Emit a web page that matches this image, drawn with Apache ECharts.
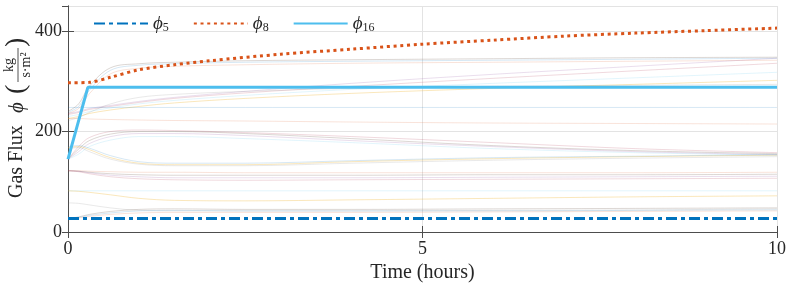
<!DOCTYPE html>
<html>
<head>
<meta charset="utf-8">
<script src="https://cdn.jsdelivr.net/npm/echarts@6/dist/echarts.min.js"></script>
<style>
html,body{margin:0;padding:0;background:#fff;}
#c{width:789px;height:289px;}
</style>
</head>
<body>
<div id="c"></div>
<script>
// ---- data ----
const T = [0, 0.15, 0.3, 0.6, 1, 1.5, 2.5, 4, 6, 8, 10];
const phi5 = [27, 27, 27, 27, 27, 27, 27, 27, 27, 27, 27];
const phi8T = [0, 0.3, 0.6, 1, 1.5, 2, 3, 4, 5, 6, 7, 8, 9, 10];
const phi8 = [297, 298, 308, 323, 333, 341, 354, 364, 374, 382, 390, 396, 401, 406];
const phi16T = [0, 0.28, 10];
const phi16 = [145, 288, 288];

// background runs (values at T)
const run01 = [238, 250, 282, 322, 332, 335, 338, 340, 342, 344, 346];
const run02 = [236, 246, 275, 315, 326, 330, 333, 336, 338, 340, 342];
const run03 = [240, 255, 290, 327, 335, 338, 341, 343, 345, 347, 348];
const run04 = [236, 240, 246, 252, 260, 268, 280, 296, 314, 330, 346];
const run05 = [234, 238, 244, 250, 258, 266, 277, 290, 306, 321, 336];
const run06 = [230, 234, 240, 247, 255, 262, 272, 284, 296, 307, 318];
const run07 = [226, 230, 236, 243, 250, 257, 266, 276, 286, 294, 302];
const run08 = [222, 228, 238, 255, 268, 274, 280, 286, 290, 292, 294];
const run09 = [248, 248, 248, 248, 248, 248, 248, 248, 248, 248, 248];
const run10 = [226, 226, 225, 224, 223, 222, 221, 219, 217, 216, 215];
const run11 = [145, 165, 182, 195, 200, 200, 196, 186, 172, 162, 156];
const run12 = [145, 160, 176, 190, 196, 196, 192, 182, 170, 160, 154];
const run13 = [145, 170, 188, 200, 203, 202, 198, 190, 178, 166, 158];
const run14 = [145, 155, 170, 183, 190, 190, 186, 178, 166, 158, 153];
const run15 = [168, 170, 164, 148, 137, 134, 134, 140, 146, 150, 153];
const run16 = [166, 168, 160, 145, 135, 132, 132, 137, 143, 147, 150];
const run17 = [170, 172, 167, 152, 140, 137, 137, 142, 148, 151, 154];
const run18 = [122, 122, 121, 120, 119, 119, 118, 118, 118, 118, 119];
const run19 = [122, 121, 119, 116, 114, 113, 113, 113, 114, 114, 115];
const run20 = [122, 121, 118, 113, 110, 108, 108, 108, 109, 110, 111];
const run21 = [122, 120, 116, 110, 106, 104, 103, 104, 105, 106, 107];
const run22 = [82, 82, 82, 82, 82, 82, 82, 82, 82, 82, 82];
const run23 = [82, 81, 79, 74, 67, 63, 62, 64, 67, 70, 72];
const run24 = [58, 57, 54, 48, 43, 42, 42, 42, 43, 44, 46];
const run25 = [27, 29, 33, 38, 42, 43, 42, 42, 42, 43, 44];
const run26 = [27, 28, 31, 35, 38, 39, 39, 39, 40, 41, 42];
const run27 = [27, 30, 35, 41, 45, 46, 45, 45, 46, 47, 48];
const runs = [run01, run02, run03, run04, run05, run06, run07, run08, run09, run10,
  run11, run12, run13, run14, run15, run16, run17, run18, run19, run20,
  run21, run22, run23, run24, run25, run26, run27];

const xTicks = [0, 5, 10];
const yTicks = [0, 200, 400];

// ---- chart ----
const palette = ['#0072BD', '#D95319', '#8a7a70', '#7E2F8E', '#A2142F', '#4DBEEE', '#EDB120', '#777777'];
const pair = (xs, ys) => ys.map((v, i) => [xs[i], v]);
const serif = '"Liberation Serif", "DejaVu Serif", serif';
const axisCol = '#4d4d4d';

const series = runs.map((r, k) => ({
  type: 'line', name: 'run' + k, data: pair(T, r), symbol: 'none', smooth: 0.35,
  silent: true, z: 1,
  lineStyle: { width: 1, color: palette[k % palette.length], opacity: (k % 4 === 2) ? 0.3 : 0.16 }
}));
const mainSeries = [
  { name: 'p5', xs: T, ys: phi5, color: '#0072BD', type: [11, 4, 4, 4], smooth: false },
  { name: 'p8', xs: phi8T, ys: phi8, color: '#D95319', type: [3, 3.7], smooth: 0.3 },
  { name: 'p16', xs: phi16T, ys: phi16, color: '#4DBEEE', type: 'solid', smooth: false }
];
mainSeries.forEach((m, i) => series.push({
  type: 'line', name: m.name, data: pair(m.xs, m.ys), symbol: 'none', showSymbol: false,
  smooth: m.smooth, z: 5 + i,
  itemStyle: { color: m.color, opacity: 0 },
  lineStyle: { width: 3, color: m.color, type: m.type }
}));

const legendNames = { p5: '5', p8: '8', p16: '16' };

const option = {
  animation: false,
  backgroundColor: '#fff',
  grid: { left: 68, right: 10, top: 6, bottom: 57, containLabel: false },
  legend: {
    data: ['p5', 'p8', 'p16'],
    left: 88, top: 9,
    itemWidth: 54, itemHeight: 12, itemGap: 24,
    formatter: n => '{i|ϕ}{s|' + legendNames[n] + '}',
    textStyle: {
      rich: {
        i: { fontFamily: serif, fontStyle: 'italic', fontSize: 19, color: '#262626' },
        s: { fontFamily: serif, fontSize: 12, color: '#262626', verticalAlign: 'bottom', padding: [8, 0, 0, 0] }
      }
    }
  },
  xAxis: [{
    type: 'value', min: 0, max: 10, interval: 5, position: 'bottom',
    axisLine: { show: true, lineStyle: { color: axisCol, width: 1 } },
    axisTick: { show: true, inside: true, length: 6, lineStyle: { color: axisCol } },
    axisLabel: { fontFamily: serif, fontSize: 18, color: '#262626', margin: 8,
      formatter: v => xTicks.includes(v) ? String(v) : '' },
    splitLine: { show: true, lineStyle: { color: '#e3e3e3', width: 1 } },
    name: 'Time (hours)', nameLocation: 'middle', nameGap: 27,
    nameTextStyle: { fontFamily: serif, fontSize: 20, color: '#262626' }
  }, {
    type: 'value', min: 0, max: 10, interval: 5, position: 'top',
    axisLine: { show: true, lineStyle: { color: axisCol, width: 1 } },
    axisTick: { show: true, inside: true, length: 6, lineStyle: { color: axisCol } },
    axisLabel: { show: false }, splitLine: { show: false }
  }],
  yAxis: [{
    type: 'value', min: 0, max: 450, interval: 200, position: 'left',
    axisLine: { show: true, lineStyle: { color: axisCol, width: 1 } },
    axisTick: { show: true, inside: true, length: 6, lineStyle: { color: axisCol } },
    axisLabel: { fontFamily: serif, fontSize: 18, color: '#262626', margin: 6, showMaxLabel: false,
      formatter: v => yTicks.includes(v) ? String(v) : '' },
    splitLine: { show: true, lineStyle: { color: '#e3e3e3', width: 1 } }
  }, {
    type: 'value', min: 0, max: 450, interval: 200, position: 'right',
    axisLine: { show: true, lineStyle: { color: axisCol, width: 1 } },
    axisTick: { show: true, inside: true, length: 6, lineStyle: { color: axisCol } },
    axisLabel: { show: false }, splitLine: { show: false }
  }],
  graphic: [{
    type: 'group', x: 17, y: 198, rotation: Math.PI / 2, silent: true,
    children: [
      { type: 'text', x: 0, y: 0, style: { text: 'Gas Flux', font: '20px ' + serif, fill: '#262626',
          textAlign: 'left', textVerticalAlign: 'middle' } },
      { type: 'text', x: 85, y: 0, style: { text: 'ϕ', font: 'italic 21px ' + serif, fill: '#262626',
          textAlign: 'left', textVerticalAlign: 'middle' } },
      { type: 'text', x: 104, y: 0, style: { text: '(', font: '28px ' + serif, fill: '#262626', textAlign: 'left', textVerticalAlign: 'middle' } },
      { type: 'text', x: 133, y: -8, style: { text: 'kg', font: '14px ' + serif, fill: '#262626', textAlign: 'center', textVerticalAlign: 'middle' } },
      { type: 'line', shape: { x1: 116, y1: 1, x2: 150, y2: 1 }, style: { stroke: '#262626', lineWidth: 0.8 } },
      { type: 'text', x: 133, y: 9, style: { text: 's·m²', font: '14px ' + serif, fill: '#262626', textAlign: 'center', textVerticalAlign: 'middle' } },
      { type: 'text', x: 151, y: 0, style: { text: ')', font: '28px ' + serif, fill: '#262626', textAlign: 'left', textVerticalAlign: 'middle' } }
    ]
  }],
  series: series
};
const chart = echarts.init(document.getElementById('c'), null, { renderer: 'canvas' });
chart.setOption(option);
</script>
</body>
</html>
